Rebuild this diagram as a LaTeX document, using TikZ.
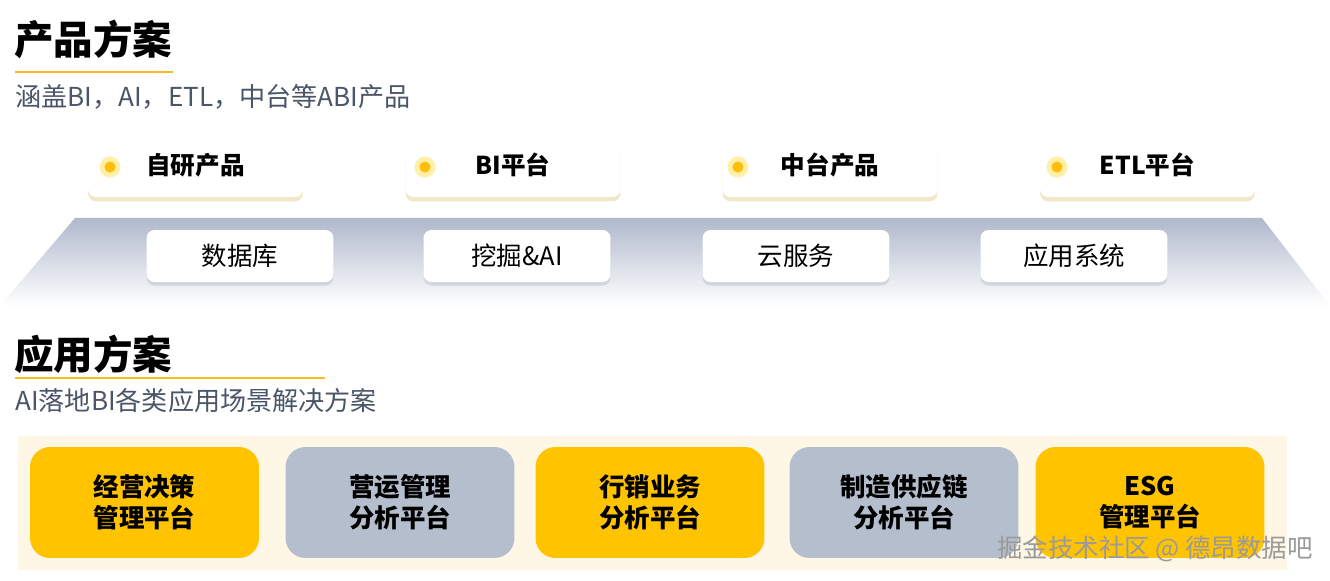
\documentclass[tikz,border=0pt]{standalone}
\usepackage{fontspec}
\setmainfont{Noto Sans CJK SC}
\usepackage{tikz}
\usetikzlibrary{shapes, shadows, positioning}
\definecolor{brandyellow}{HTML}{FFC300}
\definecolor{linegold}{HTML}{F6BB1C}
\definecolor{slategray}{HTML}{B4BECD}
\definecolor{subgray}{HTML}{4A5568}
\definecolor{creambg}{HTML}{FFF7E5}
\definecolor{glowyellow}{HTML}{FFF0A8}
\definecolor{dotyellow}{HTML}{FFBE0B}
\definecolor{cardshade}{HTML}{EFE3BC}
\definecolor{midshade}{HTML}{C8CDD9}
\definecolor{trapgray}{HTML}{AFB8CB}
\definecolor{markgray}{HTML}{9A9A9A}
\tikzstyle{ttl} = [anchor=west, inner sep=0, font=\fontsize{22.5}{26}\selectfont\bfseries]
\tikzstyle{sub} = [anchor=west, inner sep=0, text=subgray, font=\fontsize{14.85}{17}\selectfont]
\tikzstyle{line} = [draw=linegold, line width=1.7pt]
\tikzstyle{pcard} = [rectangle, rounded corners=0.16cm, fill=white, minimum width=4.3cm, minimum height=1.04cm, drop shadow={shadow xshift=0pt, shadow yshift=-2.5pt, fill=cardshade, opacity=0.8}]
\tikzstyle{ptext} = [inner sep=0, font=\fontsize{14}{16}\selectfont\bfseries]
\tikzstyle{dcard} = [rectangle, rounded corners=0.16cm, fill=white, minimum width=3.74cm, minimum height=1.04cm, font=\fontsize{14.5}{17}\selectfont, drop shadow={shadow xshift=0pt, shadow yshift=-2pt, fill=midshade, opacity=0.7}]
\tikzstyle{dot} = [circle, fill=dotyellow, draw=glowyellow, line width=2.8pt, inner sep=0, minimum size=0.32cm]
\tikzstyle{abox} = [rectangle, rounded corners=0.4cm, minimum width=4.58cm, minimum height=2.22cm, align=center, font=\fontsize{14.5}{17.5}\selectfont\bfseries]
\tikzstyle{ybox} = [abox, fill=brandyellow]
\tikzstyle{gbox} = [abox, fill=slategray]

\begin{document}
\begin{tikzpicture}[x=0.02cm, y=-0.02cm]
	\useasboundingbox (0,0) rectangle (1330,581);
	\fill [white] (0,0) rectangle (1330,581);

	% product part
	\node [ttl] (ptitle) at (14,39) {产品方案};
	\path [line] (15,72) -- (173,72);
	\node [sub] (psub) at (15,97) {涵盖BI，AI，ETL，中台等ABI产品};

	\shade [top color=trapgray, bottom color=white] (75,218) -- (1262,218) -- (1330,306) -- (0,306) -- cycle;

	\node [pcard] (p1) at (195.5,171) {};
	\node [pcard] (p2) at (513,171) {};
	\node [pcard] (p3) at (830,171) {};
	\node [pcard] (p4) at (1147.5,171) {};
	\node [ptext] (t1) at ([yshift=3.4pt]p1.center) {自研产品};
	\node [ptext] (t2) at ([yshift=3.4pt]p2.center) {BI平台};
	\node [ptext] (t3) at ([yshift=3.4pt]p3.center) {中台产品};
	\node [ptext] (t4) at ([yshift=3.4pt]p4.center) {ETL平台};
	\node [dot] (d1) at (110,167) {};
	\node [dot] (d2) at (425,167) {};
	\node [dot] (d3) at (738,167) {};
	\node [dot] (d4) at (1057,167) {};

	\node [dcard] (c1) at (240,256) {数据库};
	\node [dcard] (c2) at (517,256) {挖掘\&AI};
	\node [dcard] (c3) at (796,256) {云服务};
	\node [dcard] (c4) at (1074,256) {应用系统};

	% application part
	\node [ttl] (atitle) at (14,354) {应用方案};
	\path [line] (15,378) -- (325,378);
	\node [sub] (asub) at (15,401) {AI落地BI各类应用场景解决方案};

	\fill [creambg] (18,436) rectangle (1287,570);
	\node [ybox] (a1) at (144.5,502.5) {经营决策\\管理平台};
	\node [gbox] (a2) at (400,502.5) {营运管理\\分析平台};
	\node [ybox] (a3) at (650,502.5) {行销业务\\分析平台};
	\node [gbox] (a4) at (904,502.5) {制造供应链\\分析平台};
	\node [ybox] (a5) at (1150,502.5) {ESG\\管理平台};

	\node [text=markgray, font=\fontsize{14.5}{16}\selectfont] (mark) at (1155,549) {掘金技术社区 @ 德昂数据吧};
\end{tikzpicture}
\end{document}
